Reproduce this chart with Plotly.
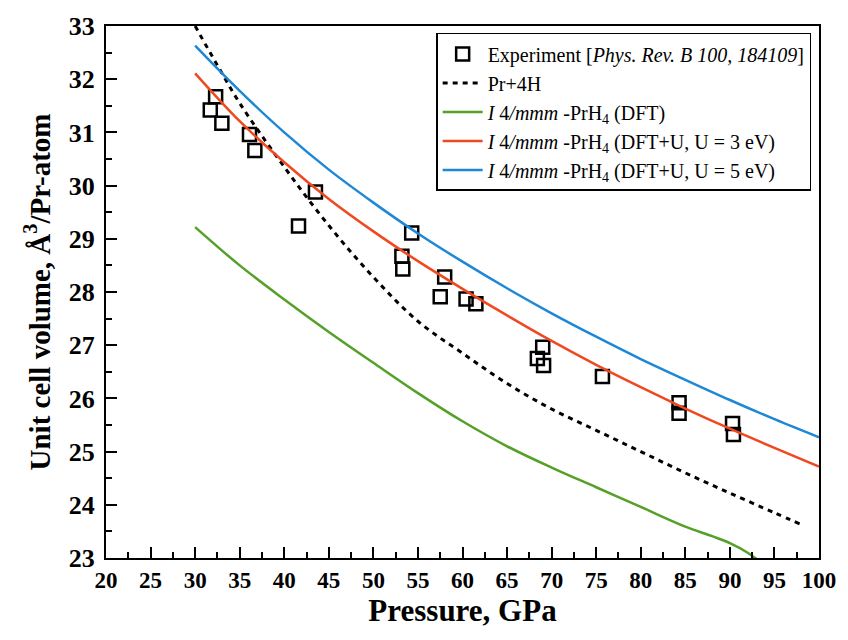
import plotly.graph_objects as go

# Experimental unit-cell volumes (Phys. Rev. B 100, 184109)
exp_p = [32.3, 31.7, 33.0, 36.1, 36.7, 41.6, 43.5, 53.2, 53.3, 54.3, 57.5, 58.0,
         60.4, 61.5, 68.4, 69.0, 69.1, 75.7, 84.3, 84.3, 90.3, 90.4]
exp_v = [31.67, 31.42, 31.17, 30.96, 30.66, 29.24, 29.88, 28.67, 28.43, 29.11, 27.91, 28.28,
         27.87, 27.78, 26.75, 26.96, 26.62, 26.41, 25.92, 25.72, 25.53, 25.32]

# Pr + 4H additive volume
sum_p = [30, 32.5, 35, 40, 45, 50, 55, 60, 65, 70, 75, 80, 85, 90, 95, 98]
sum_v = [33.0, 32.26, 31.55, 30.35, 29.25, 28.28, 27.45, 26.85, 26.28, 25.8, 25.4,
         25.0, 24.6, 24.22, 23.85, 23.63]

# I4/mmm-PrH4, plain DFT
dft_p = [30, 35, 40, 45, 50, 55, 60, 65, 70, 75, 80, 85, 88, 90, 92, 94]
dft_v = [29.22, 28.5, 27.86, 27.25, 26.67, 26.1, 25.57, 25.1, 24.7, 24.33, 23.96,
         23.59, 23.41, 23.28, 23.1, 22.85]

# I4/mmm-PrH4, DFT+U (U = 3 eV)
u3_p = [30, 35, 40, 45, 50, 55, 60, 65, 70, 75, 80, 85, 90, 95, 100]
u3_v = [32.11, 31.21, 30.44, 29.75, 29.14, 28.58, 28.06, 27.56, 27.08, 26.63, 26.21,
        25.81, 25.43, 25.07, 24.72]

# I4/mmm-PrH4, DFT+U (U = 5 eV)
u5_p = [30, 35, 40, 45, 50, 55, 60, 65, 70, 75, 80, 85, 90, 95, 100]
u5_v = [32.63, 31.78, 31.0, 30.3, 29.68, 29.1, 28.57, 28.07, 27.6, 27.16, 26.74,
        26.35, 25.97, 25.61, 25.27]

SERIF = "Liberation Serif"
GREEN = "rgb(84,160,40)"
RED = "rgb(240,72,32)"
BLUE = "rgb(30,136,214)"

fig = go.Figure()

fig.add_trace(go.Scatter(
    x=exp_p, y=exp_v, mode="markers",
    name="Experiment [<i>Phys. Rev. B 100, 184109</i>]",
    marker=dict(symbol="square-open", size=13, color="black",
                line=dict(color="black", width=2.5)),
))
fig.add_trace(go.Scatter(
    x=sum_p, y=sum_v, mode="lines", name="Pr+4H",
    line=dict(color="black", width=3, dash="5px,5px", shape="spline"),
))
fig.add_trace(go.Scatter(
    x=dft_p, y=dft_v, mode="lines",
    name="<i>I</i> 4<i>/mmm</i> -PrH<sub>4</sub> (DFT)",
    line=dict(color=GREEN, width=2.5, shape="spline"),
))
fig.add_trace(go.Scatter(
    x=u3_p, y=u3_v, mode="lines",
    name="<i>I</i> 4<i>/mmm</i> -PrH<sub>4</sub> (DFT+U, U = 3 eV)",
    line=dict(color=RED, width=2.5, shape="spline"),
))
fig.add_trace(go.Scatter(
    x=u5_p, y=u5_v, mode="lines",
    name="<i>I</i> 4<i>/mmm</i> -PrH<sub>4</sub> (DFT+U, U = 5 eV)",
    line=dict(color=BLUE, width=2.5, shape="spline"),
))

axis_common = dict(
    showline=True, linecolor="black", linewidth=2, mirror=True,
    ticks="inside", ticklen=11, tickwidth=1.5, tickcolor="black",
    showgrid=False, zeroline=False,
)

fig.update_xaxes(
    **axis_common,
    range=[20, 100], dtick=5, tick0=20,
    minor=dict(ticks="inside", ticklen=6, tickwidth=1.5, tickcolor="black", dtick=2.5),
    tickfont=dict(family=SERIF, size=23, color="black", weight="bold"),
    title=dict(text="<b>Pressure, GPa</b>", standoff=6,
               font=dict(family=SERIF, size=31, color="black")),
)
fig.update_yaxes(
    **axis_common,
    range=[23, 33], dtick=1, tick0=23,
    minor=dict(ticks="inside", ticklen=6, tickwidth=1.5, tickcolor="black", dtick=0.5),
    tickfont=dict(family=SERIF, size=26, color="black", weight="bold"),
    ticklabelstandoff=4,
    title=dict(text="<b>Unit cell volume, Å<sup>3</sup>/Pr-atom</b>", standoff=10,
               font=dict(family=SERIF, size=29, color="black")),
)

fig.update_layout(
    width=848, height=640,
    margin=dict(l=106, r=22, t=20, b=82),
    paper_bgcolor="white", plot_bgcolor="white",
    font=dict(family=SERIF, color="black"),
    showlegend=True,
    hovermode=False,
    legend=dict(
        x=0.989, y=0.987, xanchor="right", yanchor="top",
        bgcolor="white", bordercolor="black", borderwidth=1.5,
        font=dict(family=SERIF, size=20, color="black"),
        tracegroupgap=0, itemwidth=40,
    ),
)

fig.write_html("out.html", config={"displayModeBar": False})
